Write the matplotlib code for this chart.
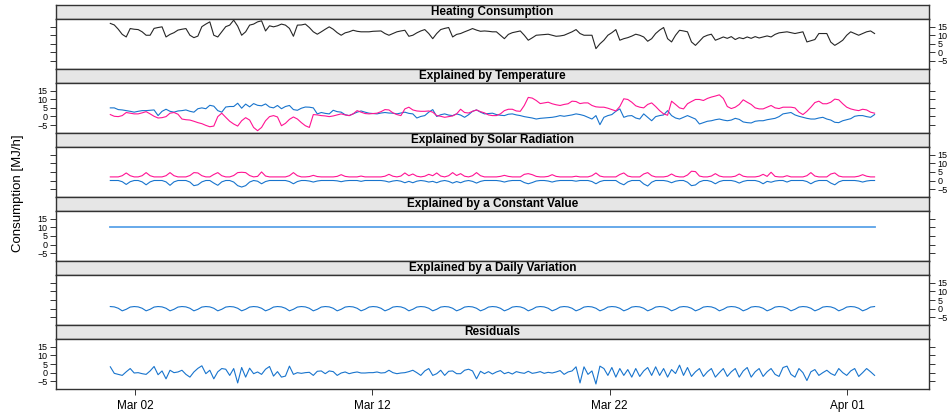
import numpy as np
import pandas as pd
import matplotlib
matplotlib.use("Agg")
import matplotlib.pyplot as plt

plt.rcParams['font.family'] = ['Liberation Sans', 'DejaVu Sans']

# observation period (values read roughly every 4 hours)
t_start = "2013-02-28 23:00"
t_end = "2013-04-02 04:00"
n_obs = 193

heating = [
    16.9, 16.0, 13.5, 10.5, 9.0, 13.9, 13.5, 13.3, 12.0, 10.0,
    10.0, 14.0, 14.5, 14.9, 9.0, 10.5, 11.5, 13.0, 13.5, 13.9,
    10.0, 8.6, 9.5, 15.0, 16.5, 17.8, 10.0, 9.0, 12.0, 15.0,
    15.9, 18.8, 15.3, 10.0, 12.0, 15.9, 16.5, 17.8, 18.4, 12.5,
    15.5, 14.9, 15.5, 16.5, 15.9, 14.0, 9.4, 15.9, 16.0, 16.5,
    14.5, 12.0, 10.6, 12.0, 13.5, 14.9, 13.5, 11.5, 10.0, 11.4,
    12.0, 12.9, 12.3, 12.0, 12.0, 12.0, 12.3, 12.4, 12.5, 11.0,
    10.0, 11.0, 12.0, 12.5, 12.9, 9.4, 10.0, 11.4, 12.5, 13.3,
    11.0, 8.0, 11.0, 13.3, 14.0, 14.5, 9.0, 10.5, 11.0, 12.0,
    12.9, 13.9, 13.0, 12.3, 12.5, 12.3, 12.0, 12.0, 10.0, 8.0,
    10.5, 11.5, 12.0, 12.5, 10.0, 7.1, 8.5, 10.0, 10.2, 10.4,
    10.6, 10.0, 9.4, 9.6, 10.0, 11.0, 12.0, 13.3, 11.0, 10.0,
    10.0, 10.0, 2.2, 5.0, 7.1, 10.0, 11.5, 13.3, 7.1, 8.0,
    8.6, 9.5, 10.6, 10.0, 9.0, 6.5, 8.0, 11.0, 13.0, 14.5,
    8.0, 6.1, 10.0, 12.9, 12.5, 12.0, 6.1, 4.1, 6.5, 9.0,
    10.0, 10.6, 7.1, 8.0, 9.0, 8.2, 9.2, 7.5, 8.6, 8.0,
    9.0, 8.2, 9.2, 8.4, 9.0, 9.6, 9.0, 10.5, 11.4, 11.7,
    12.0, 11.5, 11.0, 11.5, 12.0, 6.1, 6.8, 7.5, 11.0, 11.0,
    11.0, 6.0, 4.1, 5.5, 7.1, 10.0, 12.0, 11.0, 10.0, 11.0,
    12.0, 12.5, 11.0,
]

temp_a = [
    5.0, 5.0, 4.0, 3.8, 3.4, 3.0, 2.5, 3.0, 3.4, 3.4,
    3.6, 3.8, 0.5, 3.0, 4.2, 3.0, 2.5, 3.2, 3.4, 3.8,
    3.0, 2.5, 4.5, 5.0, 4.5, 6.5, 6.0, 3.4, 2.5, 5.5,
    5.8, 5.8, 7.7, 4.8, 7.2, 5.6, 7.5, 6.5, 6.2, 7.3,
    5.5, 5.0, 6.4, 4.5, 5.8, 6.4, 4.0, 3.6, 4.8, 5.5,
    5.4, 5.0, 1.5, 2.3, 1.8, 1.5, 3.6, 2.8, 2.5, 1.0,
    0.5, 1.5, 2.5, 3.2, 2.5, 1.9, 1.7, 1.5, 2.0, 2.3,
    2.0, 1.9, 1.5, 2.0, 2.5, 1.8, 1.5, -0.9, 0.0, 0.5,
    2.5, 4.0, 0.0, 1.0, 1.5, 0.8, 0.5, 1.5, 0.8, -0.5,
    1.0, 3.0, 3.8, 2.5, 1.5, 1.7, 1.9, 1.1, 0.7, 0.5,
    1.3, 1.5, 0.9, 0.5, -0.1, -0.5, -0.9, -1.5, -1.1, -0.9,
    -0.7, -0.5, -0.1, 0.5, 0.1, 0.5, 0.9, 1.5, 1.1, 0.5,
    -0.5, -1.5, 0.5, -4.8, -0.5, 0.5, 1.1, 3.0, 4.4, -0.5,
    0.3, 0.5, -0.9, -1.5, 1.5, -0.5, -2.5, -0.1, 0.5, 0.9,
    3.4, 0.5, -0.9, -1.5, -0.5, 0.5, -0.5, -1.5, -4.4, -3.6,
    -2.8, -2.5, -1.9, -1.5, -2.1, -2.5, -2.1, -1.1, -1.7, -3.2,
    -3.6, -3.8, -2.8, -2.5, -2.5, -1.9, -1.5, -1.1, -0.1, 1.5,
    1.9, 2.3, 0.9, 0.1, -0.5, -1.1, -1.5, -1.5, -0.9, -0.5,
    -1.5, -2.1, -3.4, -3.6, -2.5, -1.9, -1.3, 0.1, 0.5, 0.5,
    -0.1, -0.5, 1.1,
]

temp_b = [
    1.1, 0.1, -0.1, 0.5, 2.3, 1.9, 1.5, 1.5, 2.1, 2.8,
    1.5, 0.1, -0.9, -0.7, -0.1, 1.9, 2.3, 1.3, -1.5, -1.9,
    -2.1, -2.8, -3.6, -4.2, -5.2, -6.0, -5.6, -0.1, 1.9, -0.5,
    -2.8, -4.4, -5.6, -2.5, -0.7, -2.1, -6.4, -8.3, -6.4, -2.5,
    -0.1, 0.5, -0.3, -5.4, -4.0, -1.7, -0.3, -1.5, -3.6, -5.4,
    -6.4, 1.1, 0.9, 0.5, 0.3, -0.1, 0.3, 0.9, 1.5, 0.9,
    0.5, 1.5, 3.4, 2.5, 1.7, 1.5, 1.7, 1.9, 2.8, 4.0,
    3.8, 2.1, 1.1, 0.5, 4.4, 5.4, 3.8, 3.2, 3.0, 3.0,
    3.2, 2.5, 0.5, 0.1, -0.5, -0.1, 0.3, 1.5, 4.2, 2.3,
    2.0, 3.0, 3.8, 2.8, 2.1, 0.9, 0.5, 0.5, 1.5, 3.4,
    4.2, 4.2, 3.2, 3.0, 6.4, 11.1, 10.7, 9.3, 7.5, 7.9,
    8.3, 7.4, 6.8, 6.4, 7.0, 7.4, 8.9, 8.7, 7.5, 7.9,
    7.9, 6.4, 5.6, 5.4, 5.4, 4.8, 4.0, 3.2, 5.8, 10.3,
    9.9, 8.3, 6.2, 5.4, 5.0, 7.0, 7.9, 5.8, 3.4, 1.5,
    0.7, 8.9, 7.0, 5.0, 4.4, 7.4, 8.7, 9.9, 9.9, 9.3,
    10.5, 11.3, 11.9, 12.6, 10.5, 5.8, 4.6, 5.4, 7.0, 9.7,
    8.3, 7.0, 5.0, 4.4, 4.4, 5.4, 6.4, 5.0, 4.6, 5.4,
    5.4, 5.4, 5.0, 2.5, 1.1, 3.0, 5.4, 8.1, 8.9, 7.4,
    7.4, 8.3, 10.1, 9.7, 7.4, 5.4, 4.4, 3.8, 3.4, 4.2,
    3.8, 2.5, 1.9,
]

solar_a = [
    0.0, 0.0, 0.0, -0.7, -2.3, -0.7, 0.0, 0.0, -0.8, -2.5,
    -0.8, 0.0, 0.0, 0.0, -0.8, -2.8, -0.8, 0.0, 0.0, 0.0,
    -0.9, -3.0, -2.5, -0.8, 0.0, 0.0, -1.5, -2.8, -0.8, 0.0,
    0.0, -0.9, -3.0, -3.8, -3.0, -0.9, 0.0, -0.4, -1.9, -0.6,
    0.0, 0.0, 0.0, 0.0, 0.0, -0.6, -1.9, -0.6, 0.0, 0.0,
    -0.3, -0.9, -0.3, 0.0, 0.0, 0.0, 0.0, -0.2, -0.7, -0.2,
    0.0, 0.0, 0.0, -0.5, 0.0, 0.0, 0.0, 0.0, 0.0, -0.3,
    -0.9, -0.3, 0.0, -0.4, -1.3, -0.5, -1.3, -0.4, 0.0, -0.3,
    -0.9, -0.5, -1.3, -0.4, 0.0, -0.5, -1.5, -0.6, -1.3, -0.4,
    0.0, -0.5, -1.5, -0.5, 0.0, 0.0, 0.0, 0.0, -0.3, -0.9,
    -0.3, 0.0, 0.0, 0.0, -1.2, -1.9, -1.2, -0.3, 0.0, 0.0,
    -0.3, -0.9, -0.3, 0.0, 0.0, 0.0, 0.0, -0.4, 0.0, 0.0,
    0.0, -0.6, -1.9, -0.6, 0.0, 0.0, 0.0, 0.0, -1.5, -2.5,
    -0.8, 0.0, 0.0, 0.0, -2.0, -3.2, -1.0, 0.0, 0.0, 0.0,
    -0.4, -1.3, -0.4, 0.0, 0.0, -1.0, -3.0, -2.6, -0.8, 0.0,
    0.0, -0.6, -1.9, -0.6, 0.0, 0.0, 0.0, -0.5, -1.5, -0.5,
    0.0, 0.0, 0.0, -0.6, -1.9, -0.5, -1.0, -0.3, 0.0, 0.0,
    -0.9, 0.0, 0.0, 0.0, 0.0, -0.6, -1.9, -0.6, 0.0, 0.0,
    0.0, -1.5, -2.5, -0.8, 0.0, 0.0, 0.0, 0.0, -0.3, -0.9,
    -0.3, 0.0, 0.0,
]

solar_b = [
    2.1, 2.1, 2.1, 2.8, 4.4, 2.8, 2.1, 2.1, 2.8, 4.6,
    2.8, 2.1, 2.1, 2.1, 2.8, 4.6, 2.8, 2.1, 2.1, 2.1,
    2.9, 4.6, 4.4, 2.8, 2.1, 2.1, 3.5, 4.6, 2.8, 2.1,
    2.1, 2.9, 4.6, 4.8, 4.6, 2.9, 2.1, 2.4, 5.0, 2.6,
    2.1, 2.1, 2.1, 2.1, 2.1, 2.8, 4.6, 2.8, 2.1, 2.1,
    2.3, 3.0, 2.3, 2.1, 2.1, 2.1, 2.1, 2.4, 3.4, 2.4,
    2.1, 2.1, 2.1, 2.6, 2.1, 2.1, 2.1, 2.1, 2.1, 2.5,
    3.6, 2.5, 2.1, 2.6, 4.4, 2.8, 3.8, 2.5, 2.1, 2.5,
    3.6, 2.8, 4.4, 2.6, 2.1, 2.8, 4.6, 2.9, 4.0, 2.5,
    2.1, 2.8, 4.6, 2.8, 2.1, 2.1, 2.1, 2.1, 2.4, 3.0,
    2.4, 2.1, 2.1, 2.1, 3.6, 4.0, 3.4, 2.4, 2.1, 2.1,
    2.4, 3.4, 2.4, 2.1, 2.1, 2.1, 2.1, 2.5, 2.1, 2.1,
    2.1, 2.8, 4.4, 2.6, 2.1, 2.1, 2.1, 2.1, 3.5, 4.4,
    2.6, 2.1, 2.1, 2.1, 3.8, 4.6, 2.8, 2.1, 2.1, 2.1,
    2.5, 3.8, 2.5, 2.1, 2.1, 3.2, 5.4, 5.2, 2.6, 2.1,
    2.1, 2.6, 4.0, 2.6, 2.1, 2.1, 2.1, 2.5, 3.8, 2.5,
    2.1, 2.1, 2.1, 2.5, 3.6, 2.4, 4.8, 2.4, 2.1, 2.1,
    2.8, 2.1, 2.1, 2.1, 2.1, 2.8, 4.6, 2.6, 2.1, 2.1,
    2.1, 3.8, 4.4, 2.6, 2.1, 2.1, 2.1, 2.1, 2.5, 3.4,
    2.5, 2.1, 2.1,
]

constant = 10.5

daily = [
    1.2, 1.0, 0.2, -1.3, -0.4, 0.9, 1.2, 1.0, 0.2, -1.3,
    -0.4, 0.9, 1.2, 1.0, 0.2, -1.3, -0.4, 0.9, 1.2, 1.0,
    0.2, -1.3, -0.4, 0.9, 1.2, 1.0, 0.2, -1.3, -0.4, 0.9,
    1.2, 1.0, 0.2, -1.3, -0.4, 0.9, 1.2, 1.0, 0.2, -1.3,
    -0.4, 0.9, 1.2, 1.0, 0.2, -1.3, -0.4, 0.9, 1.2, 1.0,
    0.2, -1.3, -0.4, 0.9, 1.2, 1.0, 0.2, -1.3, -0.4, 0.9,
    1.2, 1.0, 0.2, -1.3, -0.4, 0.9, 1.2, 1.0, 0.2, -1.3,
    -0.4, 0.9, 1.2, 1.0, 0.2, -1.3, -0.4, 0.9, 1.2, 1.0,
    0.2, -1.3, -0.4, 0.9, 1.2, 1.0, 0.2, -1.3, -0.4, 0.9,
    1.2, 1.0, 0.2, -1.3, -0.4, 0.9, 1.2, 1.0, 0.2, -1.3,
    -0.4, 0.9, 1.2, 1.0, 0.2, -1.3, -0.4, 0.9, 1.2, 1.0,
    0.2, -1.3, -0.4, 0.9, 1.2, 1.0, 0.2, -1.3, -0.4, 0.9,
    1.2, 1.0, 0.2, -1.3, -0.4, 0.9, 1.2, 1.0, 0.2, -1.3,
    -0.4, 0.9, 1.2, 1.0, 0.2, -1.3, -0.4, 0.9, 1.2, 1.0,
    0.2, -1.3, -0.4, 0.9, 1.2, 1.0, 0.2, -1.3, -0.4, 0.9,
    1.2, 1.0, 0.2, -1.3, -0.4, 0.9, 1.2, 1.0, 0.2, -1.3,
    -0.4, 0.9, 1.2, 1.0, 0.2, -1.3, -0.4, 0.9, 1.2, 1.0,
    0.2, -1.3, -0.4, 0.9, 1.2, 1.0, 0.2, -1.3, -0.4, 0.9,
    1.2, 1.0, 0.2, -1.3, -0.4, 0.9, 1.2, 1.0, 0.2, -1.3,
    -0.4, 0.9, 1.2,
]

residuals = [
    3.4, -0.4, -1.0, -1.6, 0.5, 2.4, -0.2, 0.0, -0.6, -1.0,
    1.0, 3.6, -1.2, 1.0, -3.6, 1.4, 0.0, 0.4, 1.4, -1.0,
    -2.6, 0.4, 2.5, 4.0, -0.6, 1.4, -3.6, 0.5, 2.4, 2.0,
    -1.6, 2.4, -6.0, 3.0, -2.6, 2.6, -0.6, 0.4, -1.0, 2.0,
    3.6, -2.0, 0.6, -2.6, -2.0, 3.8, -1.0, 0.0, -0.4, 0.0,
    0.2, -1.6, 0.8, 1.0, -0.6, 1.0, 0.6, -1.6, -0.2, 0.4,
    -0.6, 0.0, 0.4, -0.2, -0.2, 0.0, 0.0, 0.4, -0.2, 0.0,
    1.4, 0.0, -0.6, -0.2, 0.0, 0.6, 1.4, 0.0, -1.6, 1.0,
    2.4, -1.6, -0.6, 1.4, -1.6, 0.8, 1.0, -0.6, -0.6, 1.4,
    2.0, 1.0, -3.6, 0.8, -0.6, 0.6, -0.8, 0.4, 1.2, -0.6,
    0.2, -0.8, 0.6, 0.0, -0.4, 0.8, -0.4, 0.0, 0.6, -0.4,
    0.2, -0.2, 0.4, 1.2, -1.0, 0.4, 1.0, 3.4, -6.0, 3.4,
    -1.0, 1.0, -6.6, 3.8, 2.4, -1.6, 3.0, -2.6, 2.4, -1.6,
    1.8, -2.6, 2.4, -2.2, 1.0, 3.0, -1.6, 3.4, -1.6, 2.4,
    -2.6, 1.8, -0.5, 4.4, -1.6, 3.0, -2.2, 0.5, 2.4, -2.2,
    0.5, 2.4, -2.6, 0.0, 2.4, -2.2, 0.5, 2.4, -2.6, 1.0,
    3.0, -2.6, 0.5, 2.4, -2.2, 0.5, 2.4, -1.0, -2.2, 3.0,
    3.8, -1.0, -2.6, 2.4, 0.0, -4.6, 0.5, 1.8, -1.6, 0.0,
    1.4, -0.5, -1.6, 2.4, 0.0, -1.6, 1.0, 2.4, -2.2, 0.0,
    2.4, 0.5, -1.6,
]

panel_titles = [
    "Heating Consumption",
    "Explained by Temperature",
    "Explained by Solar Radiation",
    "Explained by a Constant Value",
    "Explained by a Daily Variation",
    "Residuals",
]
y_ticks = [-5, 0, 5, 10, 15]
date_ticks = ["2013-03-02", "2013-03-12", "2013-03-22", "2013-04-01"]

blue = "#1874CD"
pink = "#FF1493"

times = pd.date_range(t_start, t_end, periods=n_obs)
const_times = [times[0], times[-1]]

panels = [
    [(times, heating, "#262626", 0.8)],
    [(times, temp_a, blue, 0.8), (times, temp_b, pink, 0.8)],
    [(times, solar_a, blue, 0.8), (times, solar_b, pink, 0.8)],
    [(const_times, [constant, constant], "#5AA2E8", 1.3)],
    [(times, daily, blue, 0.8)],
    [(times, residuals, blue, 0.8)],
]

W, H = 952, 417
fig = plt.figure(figsize=(W / 100, H / 100), dpi=100)

x_left, x_right = 56, 929
top0, step, strip_h = 5, 64.05, 13.6
frame_col = "#333333"

day0 = pd.Timestamp(date_ticks[0])
xlim = (day0 - pd.Timedelta(days=3.33), day0 + pd.Timedelta(days=33.46))

for k, (title, lines) in enumerate(zip(panel_titles, panels)):
    y_top = top0 + k * step
    fx, fw = x_left / W, (x_right - x_left) / W

    sax = fig.add_axes([fx, 1 - (y_top + strip_h) / H, fw, strip_h / H])
    sax.set_facecolor("#E6E6E6")
    sax.set_xticks([])
    sax.set_yticks([])
    for sp in sax.spines.values():
        sp.set_color(frame_col)
        sp.set_linewidth(1.0)
    sax.text(0.5, 0.5, title, ha="center", va="center",
             fontsize=8.5, fontweight="bold", transform=sax.transAxes)

    ax = fig.add_axes([fx, 1 - (y_top + step) / H, fw, (step - strip_h) / H])
    for xs, ys, col, lw in lines:
        ax.plot(xs, ys, color=col, lw=lw)
    ax.set_xlim(xlim)
    ax.set_ylim(-9.7, 19.7)
    ax.set_yticks(y_ticks)
    ax.tick_params(axis="y", left=True, right=True,
                   labelleft=(k % 2 == 1), labelright=(k % 2 == 0),
                   direction="out", length=4.5, width=0.7,
                   labelsize=6.5, pad=1.5, color=frame_col)
    for sp in ax.spines.values():
        sp.set_color(frame_col)
        sp.set_linewidth(1.0)

    if k == len(panels) - 1:
        ax.set_xticks(pd.to_datetime(date_ticks))
        ax.set_xticklabels([pd.Timestamp(d).strftime("%b %d") for d in date_ticks])
        ax.tick_params(axis="x", direction="out", length=4.5, width=0.7,
                       labelsize=8.5, pad=3, color=frame_col)
    else:
        ax.set_xticks([])

fig.text(0.019, 0.536, "Consumption [MJ/h]", rotation=90,
         ha="center", va="center", fontsize=9.5)

fig.savefig("out.png", dpi=100)
